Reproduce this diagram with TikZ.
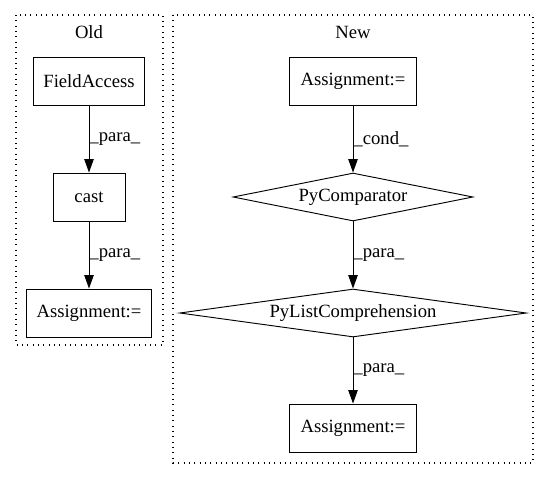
\documentclass[tikz,border=0pt]{standalone}
\usepackage{fontspec}
\setmainfont{Liberation Serif}
\usepackage{tikz}
\usetikzlibrary{shapes.geometric, arrows.meta, positioning}

\begin{document}
\begin{tikzpicture}[
    x=0.75pt, y=-0.75pt, line width=0.7pt,
    op/.style={draw, rectangle, inner sep=0pt, minimum height=36pt, font=\fontsize{14pt}{16pt}\selectfont},
    choice/.style={draw, diamond, inner sep=0pt, minimum height=36pt, font=\fontsize{14pt}{16pt}\selectfont},
    group/.style={draw, line width=0.8pt, dash pattern=on 0.8pt off 3.2pt},
    edge/.style={-{Triangle[length=10pt, width=7pt]}},
    lbl/.style={midway, right, inner sep=0pt, font=\fontsize{14pt}{16pt}\selectfont}
]
    \useasboundingbox (0,0) rectangle (549,480);

    % Clusters
    \draw[group] (16,15) rectangle (163,345);
    \node[font=\fontsize{14pt}{16pt}\selectfont] (oldlbl) at (89,32) {Old};
    \draw[group] (173,15) rectangle (533,463);
    \node[font=\fontsize{14pt}{16pt}\selectfont] (newlbl) at (353,32) {New};

    % Old side
    \node[op, minimum width=83pt] (field) at (89,81) {FieldAccess};
    \node[op, minimum width=54pt] (cast) at (89,197) {cast};
    \node[op, minimum width=94pt] (oldassign) at (89,313) {Assignment:=};

    % New side
    \node[op, minimum width=95pt] (newassign) at (353,81) {Assignment:=};
    \node[choice, aspect=5, minimum width=180pt] (cmp) at (353,197) {PyComparator};
    \node[choice, aspect=7, minimum width=260pt] (listcomp) at (353,313) {PyListComprehension};
    \node[op, minimum width=95pt] (lastassign) at (353,428) {Assignment:=};

    % Connections with labels
    \draw[edge] (field) -- (cast) node[lbl] {\_para\_};
    \draw[edge] (cast) -- (oldassign) node[lbl] {\_para\_};

    \draw[edge] (newassign) -- (cmp) node[lbl] {\_cond\_};
    \draw[edge] (cmp) -- (listcomp) node[lbl] {\_para\_};
    \draw[edge] (listcomp) -- (lastassign) node[lbl] {\_para\_};

\end{tikzpicture}
\end{document}
